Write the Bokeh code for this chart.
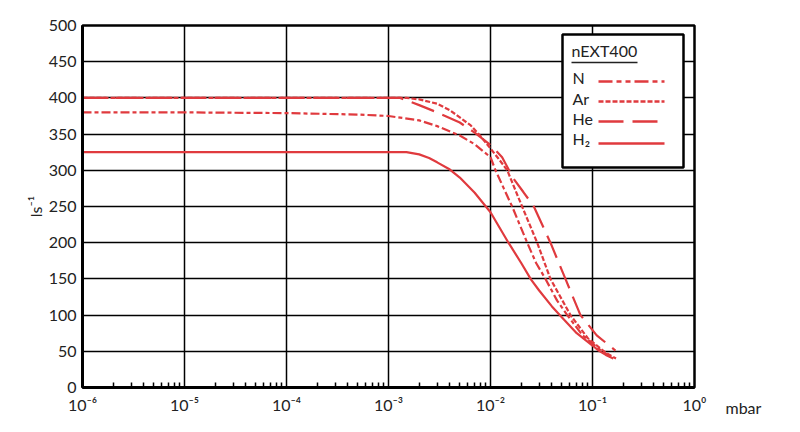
from bokeh.plotting import figure
from bokeh.models import (FixedTicker, CustomJSTickFormatter, Label, BoxAnnotation, Arrow)
from bokeh.embed import file_html
from bokeh.resources import INLINE

FONT = "Lato"
RED = "#e03a3e"
TXT = "#222222"

# ---- data ----
x_ticks = [1e-6, 1e-5, 1e-4, 1e-3, 1e-2, 1e-1, 1e0]
x_tick_labels = ["10⁻⁶", "10⁻⁵", "10⁻⁴", "10⁻³", "10⁻²", "10⁻¹", "10⁰"]
x_unit = "mbar"
y_ticks = [0, 50, 100, 150, 200, 250, 300, 350, 400, 450, 500]
y_label = "ls⁻¹"

legend_title = "nEXT400"
series_names = ["N", "Ar", "He", "H₂"]
series_dash = ["9 3 4 3", "5 2", "24 9", "solid"]
legend_dash = ["14 4 5 4 5 4", "5 2", "25 9", "solid"]

n_p = [1e-6, 1e-5, 1e-4, 5e-4, 1e-3, 2e-3, 3e-3, 5e-3, 7e-3, 1e-2, 1.12e-2, 1.35e-2,
       1.63e-2, 2.29e-2, 2.8e-2, 3.46e-2, 4.5e-2, 5.65e-2, 8e-2, 1.24e-1, 1.6e-1]
n_s = [380, 380, 379, 377, 375, 369, 361, 348, 336, 318, 300, 275,
       250, 200, 172, 150, 120, 100, 72, 50, 40]

ar_p = [1e-6, 1.5e-3, 2e-3, 3e-3, 4e-3, 5e-3, 6.4e-3, 8e-3, 1e-2, 1.2e-2, 1.46e-2,
        2.04e-2, 2.87e-2, 3.87e-2, 6.08e-2, 9e-2, 1.35e-1, 1.7e-1]
ar_s = [400, 400, 398, 392, 383, 373, 362, 347, 330, 316, 300,
        250, 200, 150, 100, 68, 48, 40]

he_p = [1e-6, 1.3e-3, 2e-3, 3e-3, 5e-3, 7e-3, 1e-2, 1.3e-2, 1.69e-2, 2.1e-2, 2.66e-2,
        3.87e-2, 5.43e-2, 7.62e-2, 1.1e-1, 1.68e-1]
he_s = [400, 400, 390, 380, 366, 352, 335, 318, 288, 270, 250,
        200, 150, 100, 72, 51]

h2_p = [1e-6, 1.5e-3, 2e-3, 2.5e-3, 3e-3, 4e-3, 5e-3, 7e-3, 1e-2, 1.5e-2, 2e-2,
        2.5e-2, 3e-2, 4e-2, 5e-2, 7e-2, 1e-1, 1.15e-1, 1.35e-1, 1.6e-1]
h2_s = [325, 325, 322, 317, 311, 301, 290, 269, 242, 200, 172,
        149, 134, 112, 97, 75, 58, 51, 45, 40]

series_p = [n_p, ar_p, he_p, h2_p]
series_s = [n_s, ar_s, he_s, h2_s]

# ---- figure ----
p = figure(width=792, height=424, x_axis_type="log", x_range=(1e-6, 1), y_range=(0, 500),
           output_backend="svg", toolbar_location=None,
           min_border_left=82, min_border_right=98, min_border_top=25, min_border_bottom=37)
p.background_fill_color = "white"
p.border_fill_color = "white"
p.outline_line_color = "black"
p.outline_line_width = 2.5

minor = [m * 10.0 ** e for e in range(-6, 0) for m in range(2, 10)]
p.xaxis.ticker = FixedTicker(ticks=x_ticks, minor_ticks=minor)
p.xaxis.formatter = CustomJSTickFormatter(args=dict(tvals=x_ticks, tlabels=x_tick_labels), code="""
for (let i = 0; i < tvals.length; i++) {
  if (Math.abs(Math.log10(tick) - Math.log10(tvals[i])) < 1e-6) return tlabels[i];
}
return "";
""")
p.yaxis.ticker = FixedTicker(ticks=y_ticks)
p.xgrid.ticker = FixedTicker(ticks=x_ticks)
p.ygrid.ticker = FixedTicker(ticks=y_ticks)
for g in (p.xgrid, p.ygrid):
    g.grid_line_color = "black"
    g.grid_line_width = 1.5
    g.grid_line_alpha = 1.0

for ax in (p.xaxis, p.yaxis):
    ax.axis_line_color = "black"
    ax.axis_line_width = 3
    ax.major_tick_in = 0
    ax.major_tick_out = 0
    ax.major_label_text_font = FONT
    ax.major_label_text_font_size = "16px"
    ax.major_label_text_color = TXT
p.xaxis.minor_tick_in = 5
p.xaxis.minor_tick_out = 0
p.xaxis.minor_tick_line_color = "black"
p.xaxis.minor_tick_line_width = 1.5
p.yaxis.minor_tick_line_color = None
p.xaxis.major_label_standoff = 7
p.yaxis.major_label_standoff = 6

p.yaxis.axis_label = y_label
p.yaxis.axis_label_text_font = FONT
p.yaxis.axis_label_text_font_style = "normal"
p.yaxis.axis_label_text_font_size = "16px"
p.yaxis.axis_label_text_color = TXT
p.yaxis.axis_label_standoff = 1

for xs, ys, dash in zip(series_p, series_s, series_dash):
    p.line(xs, ys, line_color=RED, line_width=2.2, line_dash=dash)

# unit label beside the last x tick (placed in the right panel so it is not clipped)
p.add_layout(Label(x=31, y=-20, x_units="screen", y_units="screen", text=x_unit,
                   text_baseline="alphabetic",
                   text_font=FONT, text_font_size="16px", text_color=TXT), "right")

# ---- legend box ----
p.add_layout(BoxAnnotation(left=480, right=601, bottom=220, top=353,
                           left_units="screen", right_units="screen",
                           bottom_units="screen", top_units="screen",
                           fill_color="white", fill_alpha=1.0,
                           line_color="black", line_width=2.5, line_alpha=1.0))
p.add_layout(Label(x=489, y=328, x_units="screen", y_units="screen", text=legend_title,
                   text_font=FONT, text_font_size="16px", text_color=TXT))
p.add_layout(Arrow(end=None, x_start=489, y_start=325, x_end=555, y_end=325,
                   start_units="screen", end_units="screen",
                   line_color=TXT, line_width=1.3))
label_y = [301, 280, 260, 240]
line_y = [306, 286, 266, 244]
for name, dash, ly, sy in zip(series_names, legend_dash, label_y, line_y):
    p.add_layout(Label(x=490, y=ly, x_units="screen", y_units="screen", text=name,
                       text_font=FONT, text_font_size="16px", text_color=TXT))
    p.add_layout(Arrow(end=None, x_start=516, y_start=sy, x_end=582, y_end=sy,
                       start_units="screen", end_units="screen",
                       line_color=RED, line_width=2.5, line_dash=dash))

open("out.html", "w").write(file_html(p, INLINE))
